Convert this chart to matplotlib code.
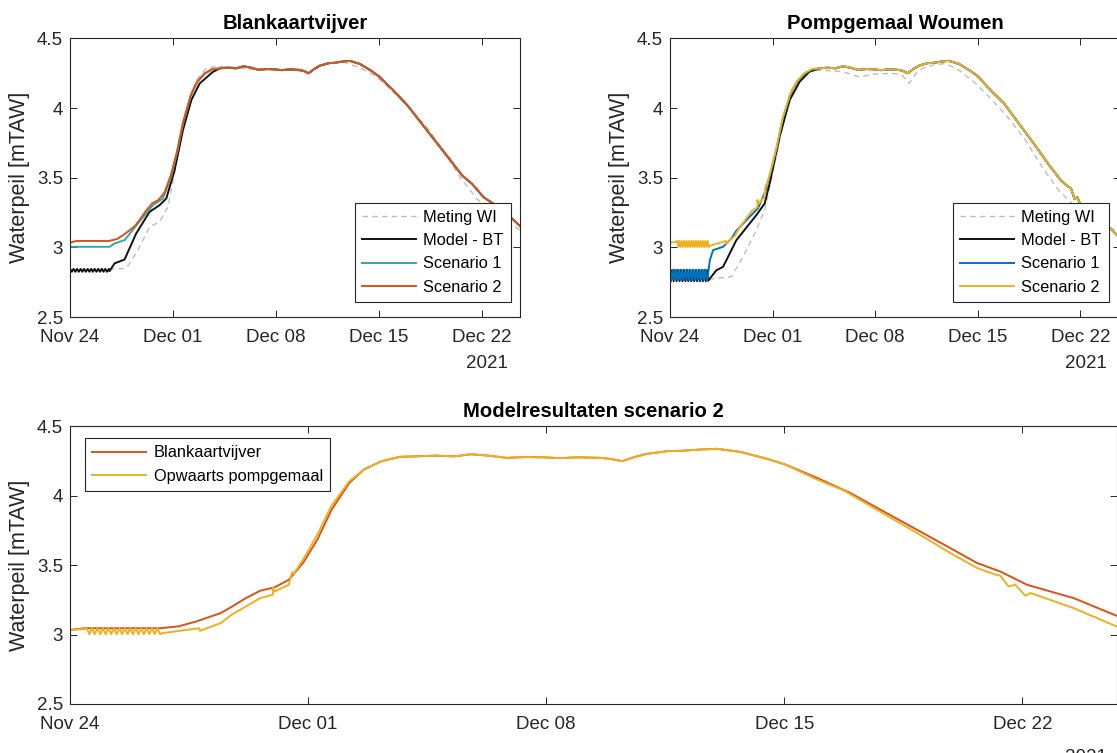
import numpy as np
import matplotlib.pyplot as plt
import matplotlib.dates as mdates

plt.rcParams['font.family'] = ['Liberation Sans', 'DejaVu Sans']

# Water levels [mTAW], time in days after 2021-11-24 00:00
start = np.datetime64('2021-11-24T00:00')

# shared plateau of the model runs (both locations)
plat_days = [10.2, 10.74, 11.3, 11.79, 12.3, 12.84, 13.4, 13.88, 14.4, 14.94, 15.59, 15.88, 16.23,
             16.6, 16.96, 17.55, 18.0, 18.53, 19.02, 19.71, 20.49, 21.03]
plat_wl = [4.285, 4.29, 4.285, 4.30, 4.29, 4.274, 4.28, 4.278, 4.272, 4.278, 4.274, 4.267, 4.25,
           4.28, 4.303, 4.322, 4.325, 4.334, 4.339, 4.317, 4.267, 4.226]

# falling limb
bk_tail_days = [21.96, 22.94, 23.92, 24.9, 25.88, 26.67, 27.35, 28.14, 29.51, 30.78]
bk_tail_wl = [4.13, 4.021, 3.888, 3.756, 3.624, 3.516, 3.455, 3.359, 3.263, 3.135]
pw_tail_days = [21.96, 22.74, 23.92, 24.9, 25.88, 26.67, 27.16, 27.35, 27.6, 27.79, 28.09, 28.24,
                29.51, 30.78]
pw_tail_wl = [4.118, 4.04, 3.872, 3.733, 3.588, 3.48, 3.436, 3.425, 3.347, 3.36, 3.28, 3.30,
              3.191, 3.058]

# Blankaartvijver
bk_meting_days = [0.0, 3.0, 3.82, 4.62, 5.41, 6.09, 6.66, 7.23, 7.91, 8.59, 9.27, 9.95, 11.0, 12.0,
                  13.0, 14.0, 15.0, 15.7, 16.2, 17.0, 18.0, 18.57, 19.7, 20.85, 21.97, 23.1, 24.25,
                  25.38, 26.5, 27.65, 28.56, 29.92, 30.6]
bk_meting = [2.84, 2.845, 2.849, 2.98, 3.148, 3.183, 3.29, 3.60, 3.985, 4.20, 4.285, 4.30, 4.295,
             4.28, 4.28, 4.275, 4.27, 4.265, 4.245, 4.30, 4.325, 4.332, 4.29, 4.224, 4.117, 3.997,
             3.866, 3.698, 3.507, 3.351, 3.268, 3.172, 3.124]

bk_bt_days = [0.0, 0.12, 0.24, 0.36, 0.48, 0.60, 0.72, 0.84, 0.96, 1.08, 1.20, 1.32, 1.44, 1.56,
              1.68, 1.80, 1.92, 2.04, 2.16, 2.28, 2.40, 2.52, 2.64, 2.69, 3.03, 3.71, 4.5, 5.41,
              6.09, 6.55, 7.11, 7.68, 8.25, 8.82, 9.72]
bk_bt = [2.845, 2.825, 2.845, 2.825, 2.845, 2.825, 2.845, 2.825, 2.845, 2.825, 2.845, 2.825,
         2.845, 2.825, 2.845, 2.825, 2.845, 2.825, 2.845, 2.825, 2.845, 2.825, 2.845, 2.83,
         2.885, 2.913, 3.10, 3.255, 3.303, 3.351, 3.554, 3.842, 4.057, 4.177, 4.26]

bk_sc1_days = [0.0, 2.69, 3.03, 3.71, 4.62, 5.64, 6.32, 6.85, 7.27, 7.69, 8.21, 8.64, 9.16, 9.69]
bk_sc1 = [3.004, 3.004, 3.028, 3.052, 3.172, 3.303, 3.351, 3.50, 3.675, 3.89, 4.085, 4.185, 4.245,
          4.278]

bk_sc2_days = [0.0, 0.44, 2.65, 3.2, 3.70, 4.43, 4.75, 5.17, 5.59, 6.01, 6.43, 6.85, 7.27, 7.69,
               8.21, 8.64, 9.16, 9.69]
bk_sc2 = [3.034, 3.046, 3.046, 3.06, 3.094, 3.155, 3.20, 3.263, 3.316, 3.34, 3.395, 3.516, 3.684,
          3.90, 4.093, 4.19, 4.25, 4.281]

# Pompgemaal Woumen
pw_meting_days = [0.0, 2.6, 4.19, 4.98, 5.89, 6.46, 7.14, 7.82, 8.61, 9.52, 10.6, 11.78, 12.92,
                  14.0, 15.18, 15.8, 16.32, 16.8, 17.22, 18.0, 18.81, 19.71, 20.85, 21.98, 23.1,
                  24.25, 25.38, 26.51, 27.42, 28.3, 29.3, 30.6]
pw_meting = [2.775, 2.77, 2.789, 2.932, 3.124, 3.268, 3.60, 3.937, 4.177, 4.272, 4.27, 4.26,
             4.224, 4.245, 4.249, 4.24, 4.177, 4.25, 4.285, 4.31, 4.32, 4.272, 4.177, 4.057,
             3.926, 3.77, 3.578, 3.411, 3.315, 3.219, 3.17, 3.115]

pw_bt_days = [0.05, 0.15, 0.25, 0.35, 0.45, 0.55, 0.65, 0.75, 0.85, 0.95, 1.05, 1.15, 1.25, 1.35,
              1.45, 1.55, 1.65, 1.75, 1.85, 1.95, 2.05, 2.15, 2.25, 2.35, 2.45, 2.55, 2.6, 3.17,
              3.62, 4.53, 5.89, 6.46, 6.8, 7.48, 8.16, 8.84, 9.5]
pw_bt = [2.757, 2.838, 2.757, 2.838, 2.757, 2.838, 2.757, 2.838, 2.757, 2.838, 2.757, 2.838,
         2.757, 2.838, 2.757, 2.838, 2.757, 2.838, 2.757, 2.838, 2.757, 2.838, 2.757, 2.838,
         2.757, 2.838, 2.76, 2.836, 2.86, 3.052, 3.231, 3.315, 3.459, 3.794, 4.057, 4.188, 4.26]

pw_sc1_days = [0.0, 0.1, 0.2, 0.3, 0.4, 0.5, 0.6, 0.7, 0.8, 0.9, 1.0, 1.1, 1.2, 1.3, 1.4, 1.5,
               1.6, 1.7, 1.8, 1.9, 2.0, 2.1, 2.2, 2.3, 2.4, 2.5, 2.55, 2.72, 2.94, 3.62, 4.19,
               4.53, 5.44, 6.0, 6.5, 6.85, 7.27, 7.69, 8.21, 8.64, 9.16, 9.69]
pw_sc1 = [2.84, 2.765, 2.84, 2.765, 2.84, 2.765, 2.84, 2.765, 2.84, 2.765, 2.84, 2.765, 2.84,
          2.765, 2.84, 2.765, 2.84, 2.765, 2.84, 2.765, 2.84, 2.765, 2.84, 2.765, 2.84, 2.765,
          2.77, 2.908, 2.98, 3.004, 3.064, 3.12, 3.22, 3.28, 3.40, 3.53, 3.71, 3.92, 4.10, 4.185,
          4.245, 4.275]

pw_sc2_days = [0.0, 0.41, 0.49, 0.57, 0.65, 0.73, 0.81, 0.89, 0.97, 1.05, 1.13, 1.21, 1.29, 1.37,
               1.45, 1.53, 1.61, 1.69, 1.77, 1.85, 1.93, 2.01, 2.09, 2.17, 2.25, 2.33, 2.41, 2.49,
               2.57, 2.65, 2.70, 3.3, 3.80, 3.82, 4.43, 4.75, 5.17, 5.59, 5.96, 5.97, 6.01, 6.43,
               6.53, 6.58, 6.85, 7.27, 7.69, 8.21, 8.64, 9.16, 9.69]
pw_sc2 = [3.034, 3.04, 3.046, 3.003, 3.046, 3.003, 3.046, 3.003, 3.046, 3.003, 3.046, 3.003,
          3.046, 3.003, 3.046, 3.003, 3.046, 3.003, 3.046, 3.003, 3.046, 3.003, 3.046, 3.003,
          3.046, 3.003, 3.046, 3.003, 3.046, 3.003, 3.01, 3.03, 3.046, 3.027, 3.083, 3.143,
          3.203, 3.263, 3.287, 3.34, 3.31, 3.359, 3.45, 3.44, 3.54, 3.72, 3.93, 4.105, 4.19,
          4.25, 4.281]

C_GRAY = '#BDBDBD'
C_BLACK = '#111111'
C_TEAL = '#2FA9A9'
C_ORANGE = '#D95319'
C_BLUE = '#0072BD'
C_YELLOW = '#EDB120'
C_AX = '#262626'


def to_time(days):
    return start + (np.asarray(days) * 1440).round().astype('timedelta64[m]')


def model_series(early_days, early_wl, tail_days, tail_wl):
    d = list(early_days) + plat_days + tail_days
    w = list(early_wl) + plat_wl + tail_wl
    return to_time(d), w


def style_axes(ax, xmax):
    ax.set_ylim(2.5, 4.5)
    ax.set_yticks([2.5, 3, 3.5, 4, 4.5])
    ax.set_yticklabels(['2.5', '3', '3.5', '4', '4.5'])
    ax.set_xlim(to_time([0.0])[0], to_time([xmax])[0])
    ticks = to_time([0, 7, 14, 21, 28])
    ax.set_xticks(ticks)
    ax.xaxis.set_major_formatter(mdates.DateFormatter('%b %d'))
    ax.tick_params(direction='in', top=True, right=True, length=5, width=0.7,
                   colors=C_AX, labelsize=13.5, pad=5)
    ax.tick_params(axis='x', pad=8.5)
    for s in ax.spines.values():
        s.set_color(C_AX)
        s.set_linewidth(0.8)
    ax.set_ylabel('Waterpeil [mTAW]', fontsize=15.5, color=C_AX, labelpad=5)


fig = plt.figure(figsize=(11.17, 7.53), dpi=100)
ax1 = fig.add_axes([0.0627, 0.579, 0.4029, 0.370])
ax2 = fig.add_axes([0.5998, 0.579, 0.4029, 0.370])
ax3 = fig.add_axes([0.0627, 0.0651, 0.9369, 0.3685])

lw = 1.4

# Blankaartvijver
ax1.plot(to_time(bk_meting_days), bk_meting, color=C_GRAY, lw=1.0, ls=(0, (4, 3)), label='Meting WI')
t, w = model_series(bk_bt_days, bk_bt, bk_tail_days, bk_tail_wl)
ax1.plot(t, w, color=C_BLACK, lw=lw, label='Model - BT')
t, w = model_series(bk_sc1_days, bk_sc1, bk_tail_days, bk_tail_wl)
ax1.plot(t, w, color=C_TEAL, lw=lw, label='Scenario 1')
t_bk2, w_bk2 = model_series(bk_sc2_days, bk_sc2, bk_tail_days, bk_tail_wl)
ax1.plot(t_bk2, w_bk2, color=C_ORANGE, lw=lw, label='Scenario 2')
style_axes(ax1, 30.61)
ax1.set_title('Blankaartvijver', fontsize=14.6, fontweight='bold', pad=7)

# Pompgemaal Woumen
ax2.plot(to_time(pw_meting_days), pw_meting, color=C_GRAY, lw=1.0, ls=(0, (4, 3)), label='Meting WI')
t, w = model_series(pw_bt_days, pw_bt, pw_tail_days, pw_tail_wl)
ax2.plot(t, w, color=C_BLACK, lw=lw, label='Model - BT')
t, w = model_series(pw_sc1_days, pw_sc1, pw_tail_days, pw_tail_wl)
ax2.plot(t, w, color=C_BLUE, lw=lw, label='Scenario 1')
t_pw2, w_pw2 = model_series(pw_sc2_days, pw_sc2, pw_tail_days, pw_tail_wl)
ax2.plot(t_pw2, w_pw2, color=C_YELLOW, lw=lw, label='Scenario 2')
style_axes(ax2, 30.7)
ax2.set_title('Pompgemaal Woumen', fontsize=14.6, fontweight='bold', pad=7)

# Scenario 2 overview
ax3.plot(t_bk2, w_bk2, color=C_ORANGE, lw=lw, label='Blankaartvijver')
ax3.plot(t_pw2, w_pw2, color=C_YELLOW, lw=lw, label='Opwaarts pompgemaal')
style_axes(ax3, 30.77)
ax3.set_title('Modelresultaten scenario 2', fontsize=14.6, fontweight='bold', pad=7)

leg_kw = dict(fontsize=11.8, frameon=True, fancybox=False, framealpha=1, edgecolor=C_AX,
              borderaxespad=0, handlelength=3.3, handletextpad=0.45, borderpad=0.45,
              labelspacing=0.5)
for ax, xa in ((ax1, 0.98), (ax2, 0.9756)):
    lg = ax.legend(loc='lower right', bbox_to_anchor=(xa, 0.054), **leg_kw)
    lg.get_frame().set_linewidth(0.8)
lg = ax3.legend(loc='upper left', bbox_to_anchor=(0.0143, 0.9586), **leg_kw)
lg.get_frame().set_linewidth(0.8)

# year label under the date axis
for ax, xr, yt in ((ax1, 0.972, -0.136), (ax2, 0.970, -0.136), (ax3, 0.9906, -0.162)):
    ax.text(xr, yt, '2021', transform=ax.transAxes, ha='right', va='top',
            fontsize=13.5, color=C_AX)

fig.savefig('out.png', dpi=100)
